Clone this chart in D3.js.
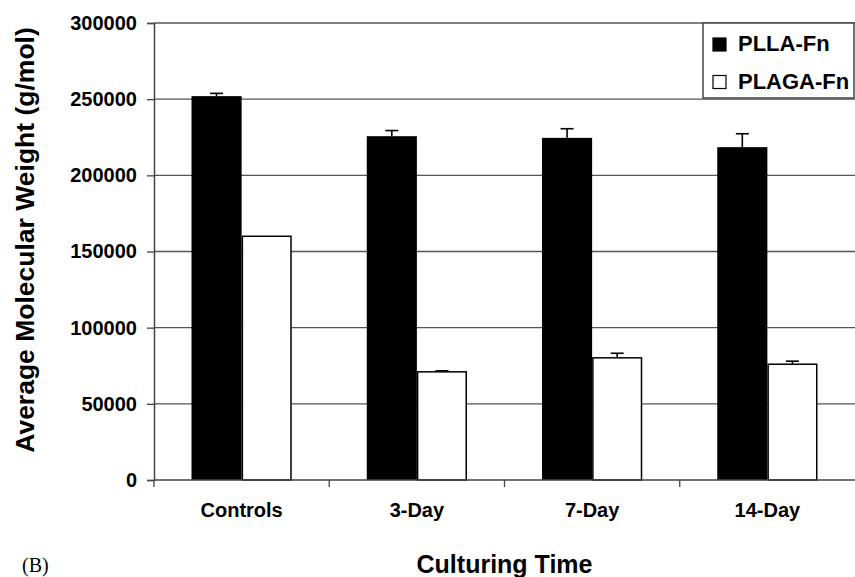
<!DOCTYPE html>
<html>
<head>
<meta charset="utf-8">
<script src="https://cdn.jsdelivr.net/npm/d3@7"></script>
<style>
  body { margin: 0; background: #fff; }
  text { font-family: Arial, "Liberation Sans", sans-serif; font-weight: bold; fill: #000; }
</style>
</head>
<body>
<div id="chart"></div>
<script>
// values
const categories = ["Controls", "3-Day", "7-Day", "14-Day"];
const seriesNames = ["PLLA-Fn", "PLAGA-Fn"];
const pllaValues = [252000, 225700, 224600, 218500];
const pllaErrors = [1800, 3700, 6000, 8800];
const plagaValues = [160000, 71000, 80200, 76000];
const plagaErrors = [0, 700, 3000, 2000];
const yTicks = [0, 50000, 100000, 150000, 200000, 250000, 300000];

const width = 855, height = 577;
const margin = {top: 23, right: 0, bottom: 97, left: 154};

const svg = d3.select("#chart").append("svg")
    .attr("width", width)
    .attr("height", height);

const y = d3.scaleLinear()
    .domain([0, 300000])
    .range([height - margin.bottom, margin.top]);

const x0 = d3.scaleBand()
    .domain(categories)
    .range([margin.left, width - margin.right])
    .padding(0);

const gap = x0.bandwidth() * 0.214;
const x1 = d3.scaleBand()
    .domain(seriesNames)
    .range([gap, x0.bandwidth() - gap])
    .padding(0);

// rows: one per category per series
const rows = [];
categories.forEach((c, i) => {
    rows.push({cat: c, s: seriesNames[0], v: pllaValues[i], e: pllaErrors[i]});
    rows.push({cat: c, s: seriesNames[1], v: plagaValues[i], e: plagaErrors[i]});
});

// gridlines behind the bars
svg.append("g")
    .selectAll("line")
    .data(yTicks.filter(d => d > 0))
    .enter().append("line")
    .attr("x1", margin.left)
    .attr("x2", width - margin.right)
    .attr("y1", d => y(d))
    .attr("y2", d => y(d))
    .style("stroke", "#555")
    .style("stroke-width", 1.3);

// bars
svg.append("g")
    .selectAll("rect")
    .data(rows)
    .enter().append("rect")
    .attr("x", d => x0(d.cat) + x1(d.s) + (d.s === seriesNames[1] ? 0.75 : 0))
    .attr("y", d => y(d.v))
    .attr("width", d => x1.bandwidth() - (d.s === seriesNames[1] ? 1.5 : 0))
    .attr("height", d => y(0) - y(d.v))
    .style("fill", d => d.s === seriesNames[0] ? "#000" : "#fff")
    .style("stroke", d => d.s === seriesNames[0] ? "none" : "#000")
    .style("stroke-width", 1.5);

// error bars, upper only
const err = svg.append("g")
    .selectAll("g")
    .data(rows.filter(d => d.e > 0))
    .enter().append("g")
    .style("stroke", "#000")
    .style("stroke-width", 1.6);

err.append("line")
    .attr("x1", d => x0(d.cat) + x1(d.s) + x1.bandwidth() / 2)
    .attr("x2", d => x0(d.cat) + x1(d.s) + x1.bandwidth() / 2)
    .attr("y1", d => y(d.v))
    .attr("y2", d => y(d.v + d.e));

err.append("line")
    .attr("x1", d => x0(d.cat) + x1(d.s) + x1.bandwidth() / 2 - 6.5)
    .attr("x2", d => x0(d.cat) + x1(d.s) + x1.bandwidth() / 2 + 6.5)
    .attr("y1", d => y(d.v + d.e))
    .attr("y2", d => y(d.v + d.e));

// y axis
const yAxis = svg.append("g")
    .attr("transform", `translate(${margin.left},0)`)
    .call(d3.axisLeft(y).tickValues(yTicks).tickFormat(d3.format("d")).tickSize(7).tickPadding(10));
yAxis.select(".domain").style("stroke", "#444").style("stroke-width", 1.5);
yAxis.selectAll(".tick line").style("stroke", "#444").style("stroke-width", 1.3);
yAxis.selectAll(".tick text")
    .style("font-size", "20px")
    .style("font-family", "Arial, 'Liberation Sans', sans-serif")
    .style("font-weight", "bold")
    .style("fill", "#000");

// x axis: ticks at category boundaries
const xAxisG = svg.append("g");
xAxisG.append("line")
    .attr("x1", margin.left)
    .attr("x2", width - margin.right)
    .attr("y1", y(0))
    .attr("y2", y(0))
    .style("stroke", "#444")
    .style("stroke-width", 1.5);
xAxisG.selectAll("line.tk")
    .data(categories)
    .enter().append("line")
    .attr("class", "tk")
    .attr("x1", d => x0(d))
    .attr("x2", d => x0(d))
    .attr("y1", y(0))
    .attr("y2", y(0) + 7)
    .style("stroke", "#444")
    .style("stroke-width", 1.3);
xAxisG.selectAll("text")
    .data(categories)
    .enter().append("text")
    .attr("x", d => x0(d) + x0.bandwidth() / 2)
    .attr("y", 517)
    .attr("text-anchor", "middle")
    .style("font-size", "20px")
    .text(d => d);

// axis titles
svg.append("text")
    .attr("x", (margin.left + width - margin.right) / 2)
    .attr("y", 573)
    .attr("text-anchor", "middle")
    .style("font-size", "25px")
    .text("Culturing Time");

svg.append("text")
    .attr("transform", "translate(34,240) rotate(-90)")
    .attr("text-anchor", "middle")
    .style("font-size", "26.5px")
    .text("Average Molecular Weight (g/mol)");

svg.append("text")
    .attr("x", 22)
    .attr("y", 572)
    .style("font-family", "'Liberation Serif', 'Times New Roman', serif")
    .style("font-weight", "normal")
    .style("font-size", "20px")
    .text("(B)");

// legend
const legend = svg.append("g").attr("transform", "translate(703,23)");
legend.append("rect")
    .attr("width", 151)
    .attr("height", 75)
    .style("fill", "#fff")
    .style("stroke", "#444")
    .style("stroke-width", 1.5);
const li = legend.selectAll("g")
    .data(seriesNames)
    .enter().append("g")
    .attr("transform", (d, i) => `translate(10,${15 + i * 37.5})`);
li.append("rect")
    .attr("width", 13)
    .attr("height", 13)
    .style("fill", (d, i) => i === 0 ? "#000" : "#fff")
    .style("stroke", "#000")
    .style("stroke-width", 1.2);
li.append("text")
    .attr("x", 25)
    .attr("y", 13)
    .style("font-size", "22px")
    .text(d => d);
</script>
</body>
</html>
